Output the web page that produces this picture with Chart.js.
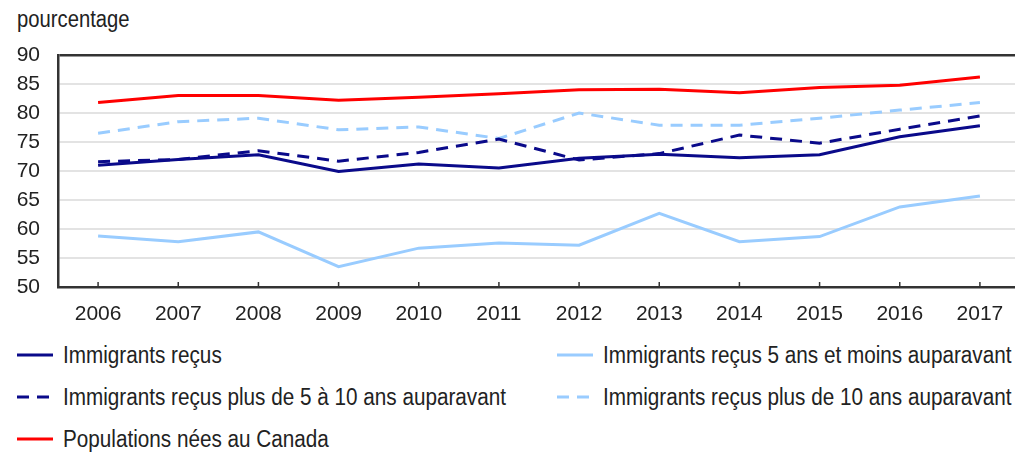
<!DOCTYPE html>
<html lang="fr">
<head>
  <meta charset="UTF-8" />
  <title>Taux d'emploi selon le statut d'immigrant</title>
  <script src="https://cdn.jsdelivr.net/npm/chart.js"></script>
  <style>
    body { margin: 0; width: 1015px; height: 452px; overflow: hidden; background: #fff; position: relative;
           font-family: "Liberation Sans", Arial, sans-serif; color: #222; }
    #unite { position: absolute; left: 17px; top: 6px; font-size: 23px; transform: scaleX(0.88); transform-origin: left center; }
    #graphe { position: absolute; left: 0; top: 0; }
    .leg { position: absolute; font-size: 23px; display: flex; align-items: center; white-space: nowrap; height: 30px; }
    .leg svg { margin-right: 10px; }
    .leg span { display: inline-block; transform: scaleX(0.9); transform-origin: left center; }
  </style>
</head>
<body>
  <div id="unite">pourcentage</div>
  <canvas id="graphe" width="1020" height="340"></canvas>
  <div id="legende"></div>

  <script>
    // données
    const annees = ['2006', '2007', '2008', '2009', '2010', '2011', '2012', '2013', '2014', '2015', '2016', '2017'];
    const immigrantsRecus = [71.0, 72.0, 72.8, 69.9, 71.2, 70.5, 72.2, 72.9, 72.3, 72.8, 75.9, 77.8];
    const recus5ansMoins = [58.8, 57.8, 59.5, 53.5, 56.7, 57.6, 57.2, 62.7, 57.8, 58.7, 63.8, 65.7];
    const recus5a10ans = [71.6, 72.0, 73.5, 71.7, 73.2, 75.5, 71.9, 73.0, 76.2, 74.8, 77.2, 79.5];
    const recusPlus10ans = [76.5, 78.5, 79.1, 77.1, 77.6, 75.6, 80.0, 77.9, 77.9, 79.1, 80.5, 81.8];
    const neesCanada = [81.8, 83.0, 83.0, 82.2, 82.7, 83.3, 84.0, 84.1, 83.5, 84.4, 84.8, 86.2];
    const ticksY = [50, 55, 60, 65, 70, 75, 80, 85, 90];

    const series = [
      { label: 'Immigrants reçus', data: immigrantsRecus, color: '#0a0a8a', dash: [] },
      { label: 'Immigrants reçus 5 ans et moins auparavant', data: recus5ansMoins, color: '#99ccff', dash: [] },
      { label: 'Immigrants reçus plus de 5 à 10 ans auparavant', data: recus5a10ans, color: '#0a0a8a', dash: [12, 8] },
      { label: 'Immigrants reçus plus de 10 ans auparavant', data: recusPlus10ans, color: '#99ccff', dash: [12, 8] },
      { label: 'Populations nées au Canada', data: neesCanada, color: '#ff0000', dash: [] }
    ];

    const policeAxes = { family: '"Liberation Sans", Arial, sans-serif', size: 21 };

    // petits traits vers le haut sur l'axe des x
    const petitsTraits = {
      id: 'petitsTraits',
      beforeDatasetsDraw(chart) {
        const x = chart.scales.x;
        const bas = chart.chartArea.bottom;
        const ctx = chart.ctx;
        ctx.save();
        ctx.strokeStyle = '#333';
        ctx.lineWidth = 1.5;
        x.ticks.forEach((t, i) => {
          const px = x.getPixelForTick(i);
          ctx.beginPath();
          ctx.moveTo(px, bas);
          ctx.lineTo(px, bas - 5);
          ctx.stroke();
        });
        ctx.restore();
      }
    };

    new Chart(document.getElementById('graphe'), {
      type: 'line',
      data: {
        labels: annees,
        datasets: series.map(s => ({
          label: s.label,
          data: s.data,
          borderColor: s.color,
          backgroundColor: s.color,
          borderDash: s.dash,
          borderWidth: 3,
          pointRadius: 0,
          tension: 0,
          fill: false
        }))
      },
      options: {
        responsive: false,
        animation: false,
        layout: { padding: { top: 55, left: 0, right: 0, bottom: 0 } },
        plugins: { legend: { display: false }, tooltip: { enabled: false } },
        scales: {
          x: {
            offset: true,
            grid: { display: false, drawTicks: false },
            border: { display: true, color: '#333', width: 2.5 },
            ticks: { color: '#222', padding: 15, autoSkip: false, maxRotation: 0, font: policeAxes },
            afterFit: s => { s.height = 53; }
          },
          y: {
            min: 50,
            max: 90,
            afterBuildTicks: s => { s.ticks = ticksY.map(v => ({ value: v })); },
            grid: {
              color: c => c.tick && c.tick.value === 90 ? '#333' : '#e3e3e3',
              lineWidth: c => c.tick && c.tick.value === 90 ? 2.5 : 2,
              drawTicks: false
            },
            border: { display: true, color: '#333', width: 2.5 },
            ticks: { color: '#222', padding: 18, autoSkip: false, font: policeAxes },
            afterFit: s => { s.width = 58; }
          }
        }
      },
      plugins: [petitsTraits]
    });

    // légende en HTML, deux colonnes
    const positions = [[17, 340], [557, 340], [17, 382], [557, 382], [17, 424]];
    const legende = document.getElementById('legende');
    series.forEach((s, i) => {
      const d = document.createElement('div');
      d.className = 'leg';
      d.style.left = positions[i][0] + 'px';
      d.style.top = positions[i][1] + 'px';
      d.innerHTML = '<svg width="36" height="6"><line x1="0" y1="3" x2="36" y2="3" stroke="' + s.color +
        '" stroke-width="3" stroke-dasharray="' + (s.dash.length ? '12 8' : 'none') + '"/></svg>';
      const t = document.createElement('span');
      t.textContent = s.label;
      d.appendChild(t);
      legende.appendChild(d);
    });
  </script>
</body>
</html>
